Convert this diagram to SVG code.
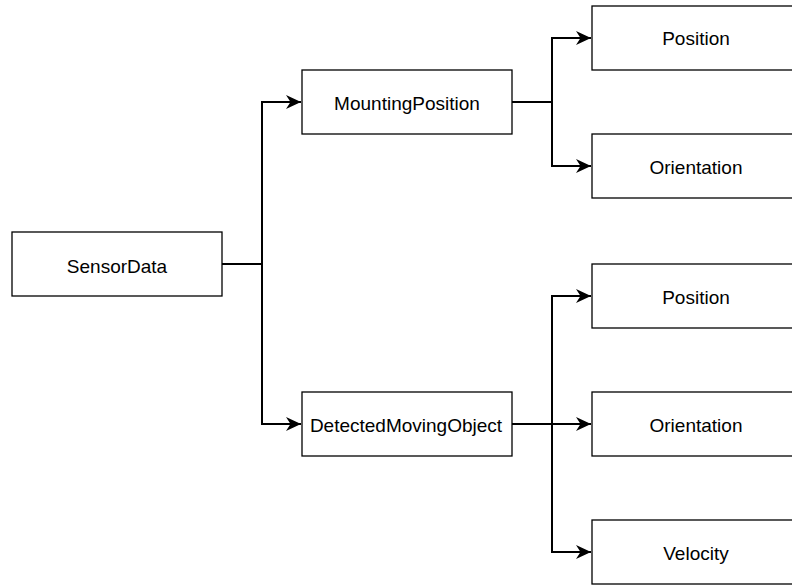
<svg xmlns="http://www.w3.org/2000/svg" width="792" height="585" viewBox="0 0 792 585">
<defs>
<marker id="arr" markerWidth="17" markerHeight="15" refX="15" refY="7.5" orient="auto" markerUnits="userSpaceOnUse">
<path d="M0,0.5 L15,7.5 L0,14.5 L4.5,7.5 Z" fill="#000"/>
</marker>
<style>
.box{fill:#fff;stroke:#000;stroke-width:1.3}
.lbl{font-family:"Liberation Sans",Arial,sans-serif;font-size:19px;fill:#000;text-anchor:middle;dominant-baseline:central}
.c{fill:none;stroke:#000;stroke-width:2}
</style>
</defs>
<rect width="792" height="585" fill="#fff"/>
<g id="connectors">
<path class="c" d="M222,264 H262 V102 H301" marker-end="url(#arr)"/>
<path class="c" d="M222,264 H262 V424 H301" marker-end="url(#arr)"/>
<path class="c" d="M512,102 H552 V38 H591" marker-end="url(#arr)"/>
<path class="c" d="M512,102 H552 V166 H591" marker-end="url(#arr)"/>
<path class="c" d="M512,424 H552 V296 H591" marker-end="url(#arr)"/>
<path class="c" d="M512,424 H591" marker-end="url(#arr)"/>
<path class="c" d="M512,424 H552 V552 H591" marker-end="url(#arr)"/>
</g>
<g id="sensordata"><rect class="box" x="12" y="232" width="210" height="64"/><text class="lbl" x="117" y="266">SensorData</text></g>
<g id="mountingposition"><rect class="box" x="302" y="70" width="210" height="64"/><text class="lbl" x="407" y="103">MountingPosition</text></g>
<g id="detectedmovingobject"><rect class="box" x="302" y="392" width="210" height="64"/><text class="lbl" x="406" y="425">DetectedMovingObject</text></g>
<g id="mp-position"><rect class="box" x="592" y="6" width="208" height="64"/><text class="lbl" x="696" y="38">Position</text></g>
<g id="mp-orientation"><rect class="box" x="592" y="134" width="208" height="64"/><text class="lbl" x="696" y="167">Orientation</text></g>
<g id="dmo-position"><rect class="box" x="592" y="264" width="208" height="64"/><text class="lbl" x="696" y="297">Position</text></g>
<g id="dmo-orientation"><rect class="box" x="592" y="392" width="208" height="64"/><text class="lbl" x="696" y="425">Orientation</text></g>
<g id="dmo-velocity"><rect class="box" x="592" y="520" width="208" height="64"/><text class="lbl" x="696" y="553">Velocity</text></g>
</svg>
